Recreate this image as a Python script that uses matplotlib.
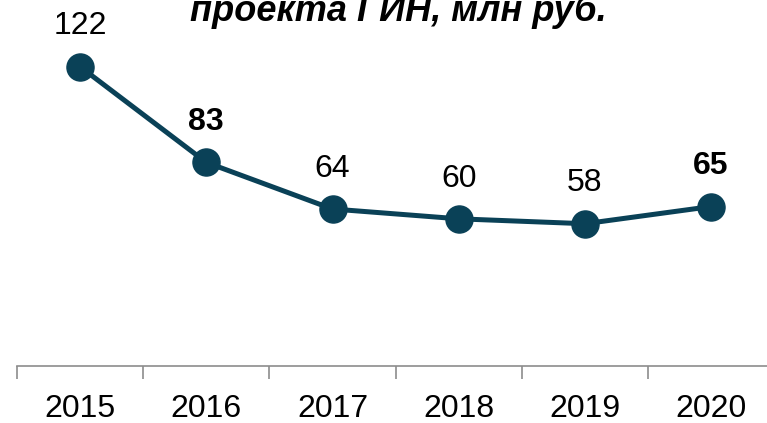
import matplotlib.pyplot as plt

years = ['2015', '2016', '2017', '2018', '2019', '2020']
values = [122, 83, 64, 60, 58, 65]
bold_labels = [False, True, False, False, False, True]
title = 'проекта ГИН, млн руб.'

line_color = '#0a4157'
sans = ['Liberation Sans', 'DejaVu Sans']

W, H = 767, 423
fig = plt.figure(figsize=(W / 100, H / 100), dpi=100)

# axes placed in pixel terms: zero line at y=366, category slots 126.2 px wide
slot = 126.2
ytop = 140
px_per_unit = 2.453
ax = fig.add_axes([17 / W, (H - 366) / H, 6 * slot / W, ytop * px_per_unit / H])
ax.set_xlim(-0.5, 5.5)
ax.set_ylim(0, ytop)

x = list(range(len(years)))
ax.plot(x, values, color=line_color, lw=3.6, marker='o', ms=19.5,
        markerfacecolor=line_color, markeredgecolor=line_color, clip_on=False)

for xi, v, b in zip(x, values, bold_labels):
    ax.annotate(str(v), (xi, v), xytext=(0, 29), textcoords='offset points',
                ha='center', va='center', fontsize=23,
                fontweight='bold' if b else 'normal', family=sans)

for s in ['top', 'right', 'left']:
    ax.spines[s].set_visible(False)
ax.spines['bottom'].set_color('#8c8c8c')
ax.spines['bottom'].set_linewidth(1.2)
ax.set_yticks([])
ax.set_xticks([i - 0.5 for i in range(7)], minor=False)
ax.set_xticklabels([])
ax.tick_params(axis='x', which='major', length=9, width=1.2, color='#8c8c8c')
ax.set_xticks(x, minor=True)
ax.set_xticklabels(years, minor=True, fontsize=23, family=sans)
ax.tick_params(axis='x', which='minor', length=0, pad=20)

fig.text(398 / W, 1 - 21 / H, title, ha='center', va='baseline', fontsize=26,
         fontweight='bold', fontstyle='italic', family=sans)

fig.savefig('out.png', dpi=100)
